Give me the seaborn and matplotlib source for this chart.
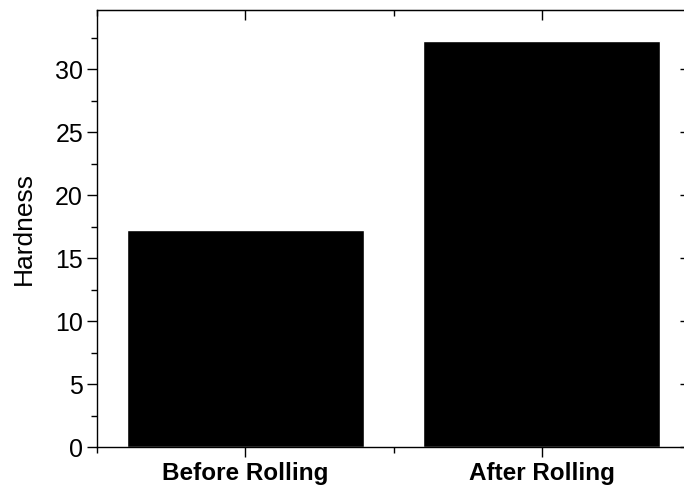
import matplotlib
matplotlib.use("Agg")
import matplotlib.pyplot as plt
import numpy as np
import pandas as pd
import seaborn as sns
from matplotlib.ticker import MultipleLocator, FixedLocator

# данные
categories = ["Before Rolling", "After Rolling"]
hardness = [17.2, 32.2]

sns.set_style("ticks")
plt.rcParams["font.family"] = ["Liberation Sans", "DejaVu Sans"]
plt.rcParams["text.color"] = "black"
plt.rcParams["axes.labelcolor"] = "black"
plt.rcParams["xtick.color"] = "black"
plt.rcParams["ytick.color"] = "black"

df = pd.DataFrame({"sample": categories, "hardness": hardness})

fig = plt.figure(figsize=(6.84, 4.91), dpi=100)
ax = fig.add_axes([0.1418, 0.0896, 0.867, 0.89])

sns.barplot(data=df, x="sample", y="hardness", color="black", width=0.8,
            saturation=1, ax=ax)

ax.set_xlim(-0.5, 1.5)
ax.set_ylim(0, 34.7)
ax.yaxis.set_major_locator(MultipleLocator(5))
ax.yaxis.set_minor_locator(MultipleLocator(2.5))
ax.xaxis.set_minor_locator(FixedLocator([-0.5, 0.5, 1.5]))

ax.set_xlabel("")
ax.set_ylabel("Hardness", fontsize=19, labelpad=14)
for s in ax.spines.values():
    s.set_linewidth(1.0)
    s.set_color("black")

ax.tick_params(axis="y", which="major", direction="out", length=7, width=1,
               labelsize=18, pad=3)
ax.tick_params(axis="y", which="minor", direction="out", length=4, width=1)
ax.tick_params(axis="x", which="major", direction="out", length=7, width=1,
               labelsize=17.5, pad=4)
ax.tick_params(axis="x", which="minor", direction="out", length=4, width=1)
for lbl in ax.get_xticklabels():
    lbl.set_fontweight("bold")

# правая и верхняя оси: засечки внутрь
right = ax.secondary_yaxis("right")
right.yaxis.set_major_locator(MultipleLocator(5))
right.yaxis.set_minor_locator(MultipleLocator(2.5))
right.tick_params(which="major", direction="in", length=7, width=1, labelright=False)
right.tick_params(which="minor", direction="in", length=4, width=1)

top = ax.secondary_xaxis("top")
top.xaxis.set_major_locator(FixedLocator([0, 1]))
top.xaxis.set_minor_locator(FixedLocator([-0.5, 0.5, 1.5]))
top.tick_params(which="major", direction="in", length=7, width=1, labeltop=False)
top.tick_params(which="minor", direction="in", length=4, width=1)

fig.savefig("out.png", dpi=100)
